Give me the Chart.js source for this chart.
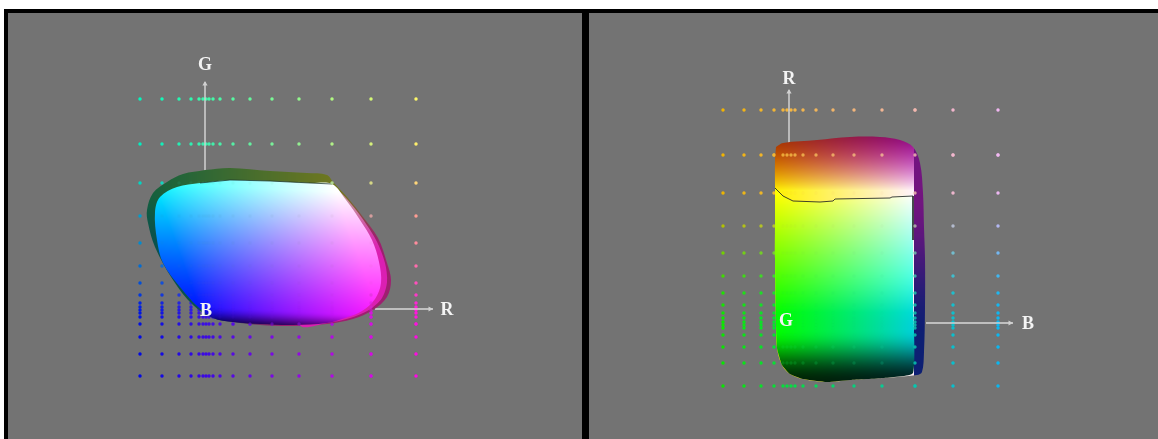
<!DOCTYPE html>
<html><head><meta charset="utf-8">
<script src="https://cdn.jsdelivr.net/npm/chart.js@4/dist/chart.umd.min.js"></script>
<style>
html,body{margin:0;padding:0;background:#fff;width:1158px;height:439px;overflow:hidden}
.b{position:absolute}
canvas{position:absolute;left:0;top:0;filter:blur(0.65px)}
</style></head><body>
<div class="b" style="left:4px;top:9px;width:1154px;height:430px;background:#000"></div>
<div class="b" style="left:8px;top:13px;width:574px;height:426px;background:#737373"></div>
<div class="b" style="left:589px;top:13px;width:569px;height:426px;background:#737373"></div>
<canvas id="c" width="1158" height="439"></canvas>
<script>
// Left view (R across, G up): sample lattice
const leftColumns=[140,162,179,191,199,203,206,209,213,220,233,250,272,299,332,371,416];
const leftRows=[99,144,183,216,243,266,283,295,303,307,310,313,317,324,337,354,376];
const leftRowGreen=[1,.96,.85,.62,.55,.42,.3,.2,.12,.1,.08,.06,.05,.03,.02,.01,0];
// Right view (B across, R up): sample lattice
const rightColumns=[723,744,761,774,783,787,791,795,803,816,833,854,882,915,953,998];
const rightRows=[110,155,193,226,253,276,293,305,313,318,322,325,328,335,347,363,386];
const rightRowRed=[.95,.95,.93,.7,.45,.25,.12,.08,.06,.05,.05,.05,.05,.04,.04,.03,.03];
// Gamut outlines
const leftOuter=[[205,170],[230,168],[270,171],[307,173],[327,175],[333,182],[347,197],[363,217],[378,238],[387,263],[391,280],[387,297],[373,310],[353,319],[327,324],[293,326],[260,325],[233,322],[213,318],[193,305],[173,280],[155,247],[148,223],[147,210],[153,193],[167,182],[183,174]];
const leftGlow=[[332,184],[347,199],[362,218],[376,240],[385,263],[387,282],[382,298],[369,310],[350,318],[327,323],[300,325],[300,250]];
const leftFace=[[200,183],[230,180],[270,181],[310,183],[332,184],[346,200],[360,220],[372,240],[379,262],[381,283],[375,299],[362,311],[345,318],[327,323],[293,325],[260,324],[233,322],[213,318],[197,306],[180,287],[163,263],[157,240],[155,212],[160,197],[177,187]];
const leftEdge=[[200,183],[230,180],[270,181],[310,183],[332,184]];
const rightOuter=[[776,147],[783,143],[817,140],[850,137],[880,137],[900,140],[913,147],[920,163],[923,193],[924,227],[925,258],[925,308],[924,352],[922,372],[917,375],[883,378],[850,380],[827,382],[803,379],[790,374],[782,365],[777,348],[776,325],[775,258],[775,225],[775,187],[775,160]];
const rightFace=[[775,188],[783,196],[793,201],[820,202],[833,201],[835,199],[890,198],[892,197],[913,196],[913,240],[913,300],[913,373],[883,378],[850,380],[827,382],[803,379],[790,374],[782,365],[777,348],[776,325],[775,258],[775,225]];
const rightEdge=[[775,188],[783,196],[793,201],[820,202],[833,201],[835,199],[890,198],[892,197],[913,196],[913,240]];
// Axes and their names
const axisLines=[[[205,172],[205,82]],[[375,309],[433,309]],[[789,143],[789,90]],[[926,323],[1013,323]]];
const axisTips=[[205,84,0],[430,309,90],[789,92,0],[1010,323,90]];
const axisNames=[["G",205,65],["R",447,310],["B",206,311],["R",789,79],["B",1028,324],["G",786,321]];

const clamp=v=>Math.max(0,Math.min(1,v));
const smooth=(a,b,x)=>{const t=clamp((x-a)/(b-a));return t*t*(3-2*t)};
const mix=(a,b,t)=>a.map((v,i)=>v+(b[i]-v)*t);
const css=(c,a=1)=>`rgba(${c.map(v=>Math.round(clamp(v)*255)).join(",")},${a})`;

function paint(fn){
  const cv=document.createElement("canvas");cv.width=1158;cv.height=439;
  const g=cv.getContext("2d"),im=g.createImageData(1158,439);
  for(let y=0;y<439;y++)for(let x=0;x<1158;x++){
    const side=x<585;const c=fn(x,y,side);const i=(y*1158+x)*4;
    im.data[i]=clamp(c[0])*255;im.data[i+1]=clamp(c[1])*255;im.data[i+2]=clamp(c[2])*255;im.data[i+3]=255;
  }
  g.putImageData(im,0,0);
  return document.getElementById("c").getContext("2d").createPattern(cv,"no-repeat");
}
function rimColor(x,y,left){
  if(left){
    const u=clamp((x-150)/190);
    const top=mix([.08,.38,.24],[.45,.47,.12],u);
    const lower=mix([.04,.32,.3],[.62,.12,.44],smooth(.25,.75,u));
    return mix(top,lower,smooth(185,245,y));
  }
  if(x>913){return mix([.45,.08,.5],[.05,.12,.45],smooth(190,340,y))}
  const u=clamp((x-775)/140),t=clamp((y-130)/60),s=.5+.5*t;
  return [s+.08*(1-u)*(1-t),Math.pow(t,1.25)*s*.95+.18*(1-u)*(1-t),u*(.45+.55*t)];
}
function glowColor(x,y){
  return mix([.78,.55,.62],[.86,.12,.7],smooth(195,255,y));
}
function faceColor(x,y,left){
  if(left){
    const v=clamp((325-y+(x-205)*.05)/140);
    const u=clamp((x-155-(y-185)*.36)/178);
    const dark=.1+.9*smooth(-.03,.14,v);
    return [Math.pow(u,.8)*dark,Math.pow(v,1.2)*dark,1*dark];
  }
  const u=clamp((x-775)/138),r=clamp((312-y)/118),dark=.14+.86*(1-smooth(328,382,y));
  const lowFade=1-.18*u*smooth(270,330,y);
  return [r*dark,lowFade*dark,Math.pow(u,1.1)*dark*(.85+.15*r)];
}
const dot=(xs,ys,colorOf,alpha)=>{
  const data=[],colors=[];
  xs.forEach((x,i)=>ys.forEach((y,j)=>{
    const a=typeof alpha==="function"?alpha(x,y):alpha;
    if(a>0){data.push({x,y});colors.push(css(colorOf(i,j),a))}
  }));
  return {type:"scatter",data,pointBackgroundColor:colors,pointBorderWidth:0,pointRadius:1.7,showLine:false};
};
const leftDotColor=(i,j)=>{
  const r=(leftColumns[i]-140)/276,g=leftRowGreen[j],bt=mix([.75],[.9],1-g)[0]*(1-r*.45*g);
  return [r,g*.95+.03,bt];
};
const rightDotColor=(i,j)=>{
  const u=(rightColumns[i]-723)/275,r=rightRowRed[j];
  const g=mix([.92-.22*r],[.72],u)[0];
  return [r,g,Math.pow(u,.9)*.95];
};
const shape=(pts,fill,tension=.35)=>({type:"line",data:pts.concat([pts[0]]).map(p=>({x:p[0],y:p[1]})),backgroundColor:fill,borderColor:"rgba(0,0,0,0)",borderWidth:0,pointRadius:0,fill:"shape",tension});
const stroke=(pts,color,w)=>({type:"line",data:pts.map(p=>({x:p[0],y:p[1]})),borderColor:color,borderWidth:w,pointRadius:0,fill:false,tension:0});

const rim=paint(rimColor),face=paint(faceColor),glow=paint(glowColor);
const layers=[
  dot(leftColumns,leftRows,leftDotColor,1),
  dot(rightColumns,rightRows,rightDotColor,1),
  ...axisLines.map(l=>stroke(l,"#d9d9d9",1.4)),
  {type:"scatter",data:axisTips.map(t=>({x:t[0],y:t[1]})),pointStyle:"triangle",rotation:axisTips.map(t=>t[2]),pointRadius:3,pointBackgroundColor:"#d0d0d0",pointBorderWidth:0},
  shape(leftOuter,rim),
  shape(leftGlow,glow,.3),
  shape(leftFace,face),
  stroke(leftEdge,"rgba(25,50,40,.75)",1),
  shape(rightOuter,rim),
  shape(rightFace,face,.15),
  stroke(rightEdge,"rgba(30,35,35,.85)",1),
  dot(leftColumns,leftRows,leftDotColor,(x,y)=>x===371&&y>=295?.55:(y===324&&x>=233?.55:(x===332&&y===183?1:.1))),
  dot(rightColumns,rightRows,rightDotColor,(x,y)=>(x===915)?.85:((y===155&&x>=774)?.85:((y===347||y===363)&&x>=783?.22:.08)))
];
// Chart.js paints the first dataset last, so the stacking list is handed over reversed.
const datasets=layers.slice().reverse();
const namesPlugin={id:"names",afterDatasetsDraw(ch){
  const c=ch.ctx;c.save();c.fillStyle="#f4f4f4";c.font='bold 18px "Liberation Serif"';c.textAlign="center";c.textBaseline="middle";
  axisNames.forEach(n=>c.fillText(n[0],ch.scales.x.getPixelForValue(n[1]),ch.scales.y.getPixelForValue(n[2])));
  c.restore();
}};
new Chart(document.getElementById("c"),{
  type:"scatter",data:{datasets},plugins:[namesPlugin],
  options:{responsive:false,animation:false,events:[],layout:{padding:0,autoPadding:false},
    plugins:{legend:{display:false},tooltip:{enabled:false},title:{display:false}},
    scales:{x:{type:"linear",min:0,max:1158,display:false},y:{type:"linear",min:0,max:439,reverse:true,display:false}}}
});
</script></body></html>
